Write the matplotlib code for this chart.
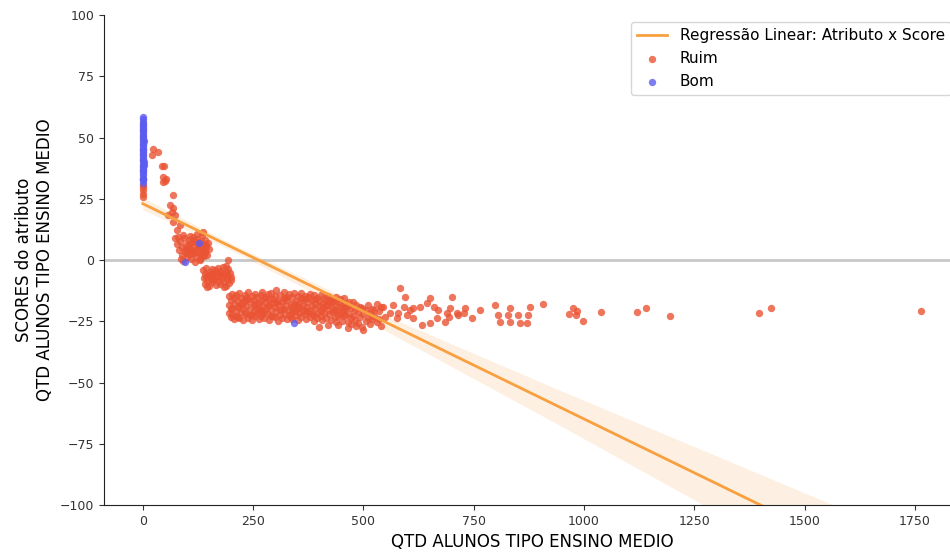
import matplotlib
matplotlib.use('Agg')
from matplotlib import pyplot as plt

# students with "Bom" score, mostly stacked at zero
bom_x = [0, 0, 0, 0, 0, 0, 0, 0, 0, 0, 0, 0, 0, 0, 0, 0, 0, 0, 0, 0, 0, 0, 0, 0, 0, 0,
         1, 1, 2, 1, 2, 1, 0, 1, 0, 2, 1, 0, 128, 96, 343.5]
bom_y = [31.4, 32.8, 33.5, 34.9, 35.6, 36.2, 37.8, 38.3, 39.1, 40.6, 41.2, 42.7, 43.3,
         44.0, 45.5, 46.1, 47.4, 48.0, 49.2, 50.3, 51.6, 52.4, 53.9, 55.1, 56.3, 57.6,
         36.9, 44.8, 48.7, 52.9, 40.1, 33.2, 58.3, 42.0, 46.8, 38.9, 50.7, 54.6,
         6.8, -0.7, -25.6]

# "Ruim" points, grouped by region of the curve
ruim_zero_x = [0, 0, 0, 0, 0, 0, 0, 0, 0, 0, 0, 0]
ruim_zero_y = [25.8, 27.0, 28.4, 29.6, 30.5, 33.0, 37.0, 41.0, 45.0, 49.0, 53.0, 56.0]

curve_x = [22.6, 34, 20, 43, 49, 46.7, 50.5, 45.3, 52.8, 69.4, 62, 68, 58, 73, 66,
           69.4, 77, 84.5, 80.8, 92, 73]
curve_y = [45.3, 44, 42.9, 38.4, 38.4, 34, 32.2, 31.7, 33, 26.5, 22.4, 21.1, 18.4,
           18.4, 19.5, 15.6, 12.2, 14.3, 9.5, 10.2, 8.8]

near0_x = [78, 82, 85, 88, 90, 93, 95, 98, 100, 102, 104, 106, 108, 110, 111, 113, 115,
           117, 119, 121, 122, 124, 126, 128, 129, 131, 133, 134, 136, 138, 139, 141,
           142, 144, 146, 147, 149, 137, 130, 194, 86, 92, 118, 108, 123,
           97, 105, 114, 127, 135, 143, 101, 116, 132, 140]
near0_y = [6.5, 4.2, 7.8, 2.1, 5.5, 8.9, 3.4, 6.1, 1.2, 4.8, 8.2, 2.6, 6.9, 0.5, 4.0,
           9.4, 5.7, 2.9, 7.4, 1.1, 4.5, 8.6, 3.2, 5.9, 0.3, 7.7, 2.4, 10.1, 4.9, 6.6,
           1.8, 8.3, 3.7, 5.4, 2.2, 7.1, 4.3, 11.6, 0.0, 0.0, 0.4, -0.2, -0.9, 9.8, 10.6,
           4.6, 6.3, 3.1, 7.0, 1.5, 6.0, 3.0, 8.0, 5.0, 2.8]

minus5_x = [136, 138, 140, 142, 144, 146, 148, 150, 152, 154, 156, 158, 160, 162, 164,
            166, 168, 170, 172, 174, 176, 178, 180, 182, 184, 186, 188, 190, 192, 194,
            196, 198, 200, 184, 145, 188, 143, 151, 159, 167, 175, 183, 191, 199]
minus5_y = [-4.2, -7.5, -9.8, -5.6, -3.1, -8.4, -6.2, -10.5, -4.7, -7.9, -3.6, -9.1,
            -5.9, -8.0, -4.1, -10.2, -6.8, -3.3, -8.7, -5.2, -9.6, -4.5, -7.2, -2.9,
            -8.9, -6.0, -10.8, -4.8, -7.6, -3.8, -9.3, -5.5, -8.1, -11.2, -11.0, -2.6,
            -6.9, -6.0, -7.3, -5.4, -6.6, -5.8, -6.4, -6.9]

band_cols = [
    (196, [-14.8, -18.2, -21.5]), (199, [-16.4, -23.1, -19.9]), (203, [-13.9, -19.7, -22.4]),
    (207, [-15.6, -17.9, -24.0]), (211, [-14.2, -20.8, -22.9]), (215, [-16.9, -19.1, -23.2]),
    (219, [-13.5, -18.6, -23.8]), (223, [-15.3, -21.2, -18.0]), (227, [-17.4, -20.1, -24.3]),
    (231, [-14.1, -16.2, -22.0]), (235, [-18.9, -21.7, -15.5]), (239, [-13.2, -15.8, -23.5]),
    (243, [-17.1, -19.9, -22.5]), (247, [-14.6, -22.6, -24.6]), (251, [-16.5, -18.3, -20.9]),
    (255, [-13.8, -23.0, -17.8]), (259, [-15.1, -19.4, -21.6]), (263, [-17.7, -24.1, -20.5]),
    (267, [-14.3, -16.9, -20.3, -22.8]), (271, [-12.9, -18.8, -21.7]),
    (275, [-15.5, -21.4, -23.7]), (279, [-17.3, -19.6, -15.2]), (283, [-14.0, -22.1, -18.7]),
    (287, [-16.0, -18.5, -24.4]), (291, [-13.4, -20.6, -22.9]), (295, [-15.9, -17.6, -22.7]),
    (299, [-14.7, -19.3, -23.4]), (303, [-12.4, -21.0, -17.1]), (307, [-16.6, -18.0, -24.8]),
    (311, [-14.4, -20.2, -22.3]), (315, [-17.0, -23.6, -19.9]), (319, [-13.1, -15.7, -19.8]),
    (323, [-18.4, -21.9, -15.6]), (327, [-14.9, -16.3, -24.2]), (331, [-13.7, -20.5, -22.5]),
    (335, [-17.8, -19.0, -23.1]), (339, [-15.2, -21.3, -23.9]), (343, [-13.3, -18.1, -21.0]),
    (347, [-16.8, -20.0, -22.6]), (351, [-14.5, -24.5, -18.9]), (355, [-17.5, -19.5, -21.8]),
    (359, [-13.6, -15.4, -23.2]), (363, [-18.7, -20.7, -16.4]), (367, [-14.8, -16.1, -22.2]),
    (371, [-19.2, -24.0, -21.0]), (375, [-15.0, -17.2, -21.1]), (379, [-13.9, -20.4, -23.3]),
    (383, [-16.4, -18.6, -22.0]), (387, [-14.2, -22.4, -25.0]), (391, [-17.6, -19.7, -15.9]),
    (395, [-15.6, -21.5, -23.8]), (399, [-16.6, -18.9, -27.2]),
    (403, [-14.1, -20.9, -22.9]), (407, [-17.9, -24.6, -20.0]), (411, [-15.3, -19.3, -21.7]),
    (415, [-16.2, -23.5, -18.3]), (419, [-14.6, -18.4, -26.5]), (423, [-20.3, -22.0, -16.8]),
    (427, [-15.8, -17.4, -24.3]), (431, [-16.9, -19.9, -21.2]), (435, [-18.1, -23.1, -20.6]),
    (439, [-15.1, -20.6, -25.4]), (443, [-17.3, -22.7, -26.5]), (447, [-16.0, -19.0, -21.9]),
    (451, [-18.8, -21.4, -24.8]), (455, [-15.4, -20.1, -23.0]), (459, [-17.7, -22.3, -19.8]),
    (464, [-18.9, -25.1, -27.9]), (468, [-17.0, -21.9]), (472, [-19.6, -23.7, -26.2]),
    (476, [-17.2, -22.8]), (480, [-20.5, -24.6]), (484, [-18.2, -26.9]),
    (488, [-21.3, -25.8]), (492, [-19.0, -23.4]), (496, [-19.4, -27.5]),
    (500, [-22.1, -28.6]), (505, [-20.2, -24.9]), (510, [-18.5, -23.6]),
    (515, [-21.6, -26.0]), (520, [-19.8, -24.2]), (525, [-22.9, -20.6]),
    (530, [-18.0, -25.3]), (535, [-21.0, -23.9]), (540, [-19.3, -26.8]),
]

tail_x = [583, 594, 568, 545, 560, 579, 591, 606, 613, 628, 643, 651, 659, 670, 689, 700,
          696, 711, 730, 727, 764, 745, 798, 806, 810, 832, 832, 828, 851, 855, 870, 878,
          874, 907, 549, 575, 598, 613, 632, 651, 666, 685, 693, 715, 974, 983, 967, 982,
          997, 1038, 1119, 1140, 1195, 1397, 1423, 1764]
tail_y = [-11.6, -15.0, -18.4, -19.0, -21.8, -21.8, -19.0, -20.4, -19.7, -19.0, -17.7,
          -15.6, -19.0, -20.4, -21.8, -15.0, -19.7, -21.8, -19.7, -21.8, -20.4, -23.8,
          -18.4, -22.4, -25.2, -19.7, -25.2, -22.4, -22.4, -25.8, -25.8, -19.0, -22.4,
          -18.0, -23.1, -23.8, -22.4, -23.8, -26.5, -25.8, -23.8, -25.2, -23.1, -22.4,
          -19.5, -20.7, -22.2, -22.4, -24.9, -21.2, -21.2, -19.6, -22.7, -21.8, -19.6,
          -20.7]

# fitted line and its confidence band
reg_x = [0, 1765]
reg_y = [23.0, -132.1]
ci_x = [0, 200, 500, 946, 1399, 1765]
ci_lo = [20.5, 4.0, -24.0, -67.6, -112.8, -149.0]
ci_hi = [25.5, 6.8, -18.8, -53.2, -87.4, -115.2]

band_x = [x for x, ys in band_cols for _ in ys]
band_y = [y for _, ys in band_cols for y in ys]
ruim_x = ruim_zero_x + curve_x + near0_x + minus5_x + band_x + tail_x
ruim_y = ruim_zero_y + curve_y + near0_y + minus5_y + band_y + tail_y

fig = plt.figure(figsize=(9.5, 5.52), dpi=100)
ax = fig.add_axes([0.1093, 0.0851, 0.9018, 0.8877])

ax.axhline(0, color='#c8c8c8', lw=2, zorder=0)
ax.fill_between(ci_x, ci_lo, ci_hi, color='#f8a040', alpha=0.15, lw=0, zorder=1)
pts_ruim = ax.scatter(ruim_x, ruim_y, s=28, color='#ea5434', alpha=0.8, lw=0,
                      label='Ruim', zorder=2)
pts_bom = ax.scatter(bom_x, bom_y, s=28, color='#5c5cf2', alpha=0.8, lw=0,
                     label='Bom', zorder=2)
reg_line, = ax.plot(reg_x, reg_y, color='#f8a040', lw=2, zorder=3,
                    label='Regressão Linear: Atributo x Score')

ax.set_xlim(-88.25, 1853.25)
ax.set_ylim(-100, 100)
ax.set_xticks(range(0, 1751, 250))
ax.set_yticks(range(-100, 101, 25))
ax.tick_params(labelsize=9, colors='#333333')
for side in ['top', 'right']:
    ax.spines[side].set_visible(False)
for side in ['left', 'bottom']:
    ax.spines[side].set_color('#222222')

ax.set_xlabel('QTD ALUNOS TIPO ENSINO MEDIO', fontsize=12)
ax.set_ylabel('SCORES do atributo\nQTD ALUNOS TIPO ENSINO MEDIO', fontsize=12)

ax.legend(handles=[reg_line, pts_ruim, pts_bom],
          loc='upper left', bbox_to_anchor=(630.7 / 950, 1 - 22.3 / 552),
          bbox_transform=fig.transFigure, borderaxespad=0, fontsize=11,
          edgecolor='#cccccc')

fig.savefig('out.png', dpi=100)
